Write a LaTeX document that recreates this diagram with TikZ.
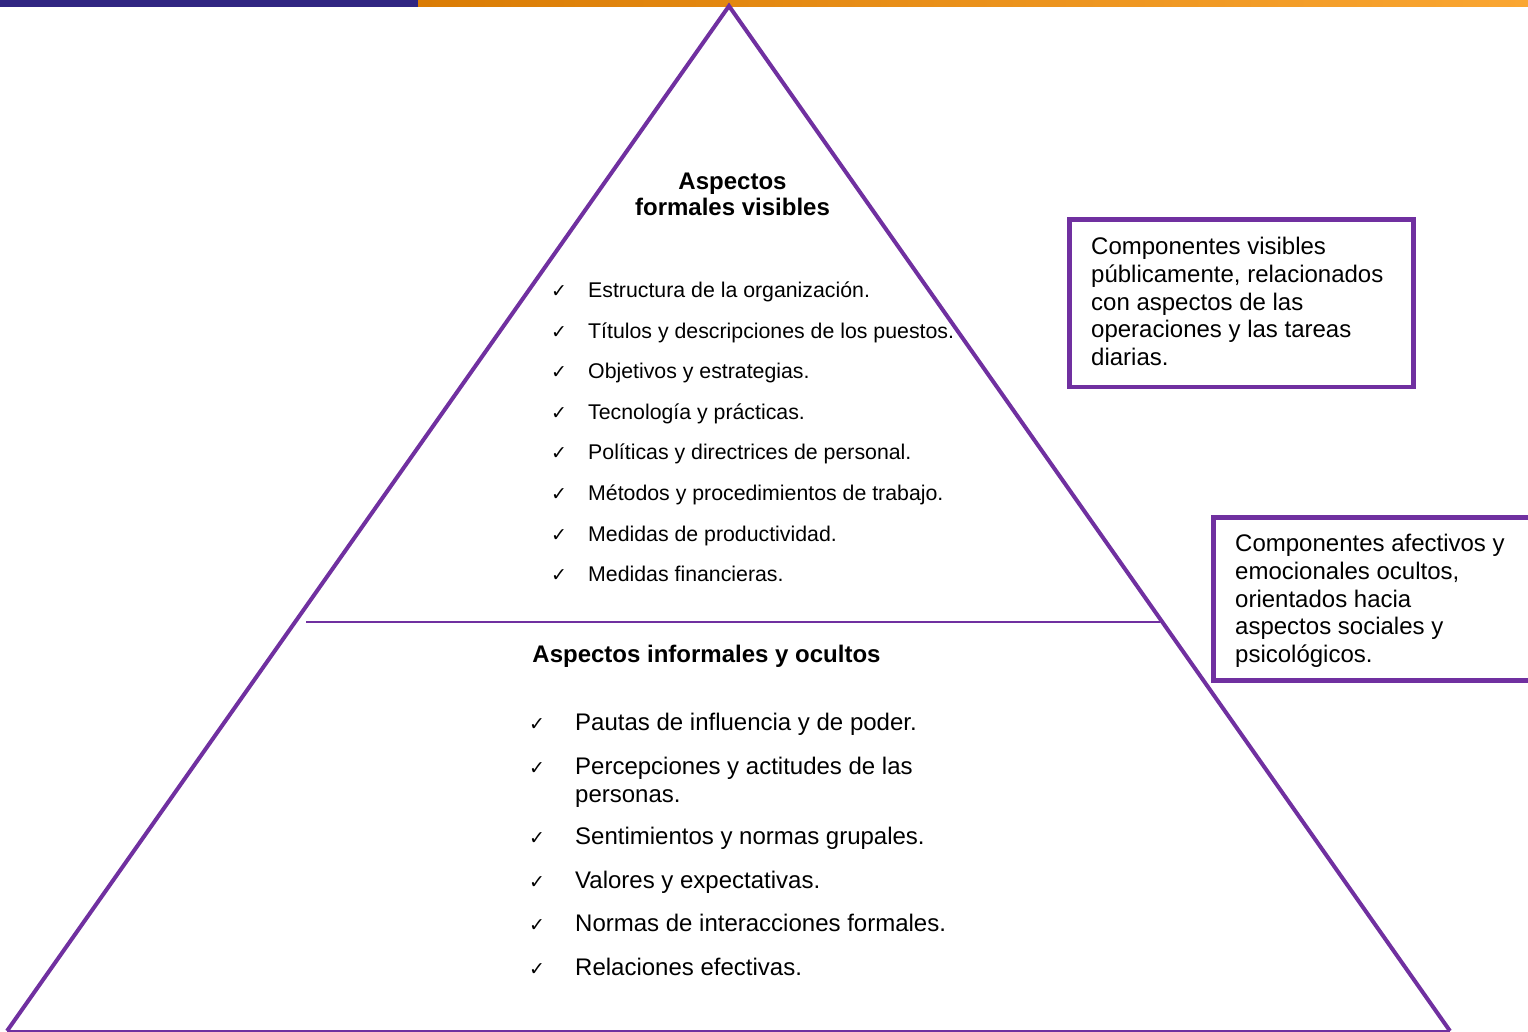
\documentclass[tikz,border=0pt]{standalone}
\usepackage{fontspec}
\setmainfont{Liberation Sans}
\newfontfamily\symfont{DejaVu Sans}
\definecolor{tripurple}{HTML}{7030A0}
\definecolor{bardark}{RGB}{49,38,130}
\definecolor{orangeA}{RGB}{218,124,4}
\definecolor{orangeB}{RGB}{250,166,50}
\begin{document}
\begin{tikzpicture}[x=1pt,y=-1pt,
  upitem/.style={anchor=base west,inner sep=0pt,font=\fontsize{21.3}{24}\selectfont},
  lowitem/.style={anchor=base west,inner sep=0pt,align=left,font=\fontsize{24}{28}\selectfont},
  chk/.style={anchor=base west,inner sep=0pt,font=\symfont\fontsize{19}{22}\selectfont},
  boxtext/.style={anchor=base west,inner sep=0pt,align=left,font=\fontsize{24}{27.7}\selectfont},
  heading/.style={anchor=base,inner sep=0pt,align=center,font=\bfseries\fontsize{24}{26}\selectfont},
  sidebox/.style={draw=tripurple,line width=4.5pt}]
\useasboundingbox (0,0) rectangle (1528,1032);
% top bar
\fill[bardark] (0,0) rectangle (418,7);
\shade[left color=orangeA,right color=orangeB] (418,0) rectangle (1528,7);
% triangle
\coordinate (apex) at (729,6);
\coordinate (bl) at (7,1031);
\coordinate (br) at (1450,1031);
\coordinate (dl) at (306,622);
\coordinate (dr) at (1160,622);
\draw[tripurple,line width=2pt] (bl) -- (br);
\draw[tripurple,line width=4pt,line join=miter] (bl) -- (apex) -- (br);
\draw[tripurple,line width=2pt] (dl) -- (dr);
% upper heading (base = last line)
\node[heading] (h1) at (732.5,216) {Aspectos\\formales visibles};
% upper list
\foreach \t [count=\i from 0] in {Estructura de la organización.,
  Títulos y descripciones de los puestos.,
  Objetivos y estrategias.,
  Tecnología y prácticas.,
  Políticas y directrices de personal.,
  Métodos y procedimientos de trabajo.,
  Medidas de productividad.,
  Medidas financieras.}{
  \node[chk] (uc\i) at (551,297.5+40.6*\i) {✓};
  \node[upitem] (ut\i) at (588,297.5+40.6*\i) {\t};
}
% lower heading
\node[heading] (h2) at (706.5,662) {Aspectos informales y ocultos};
% lower list
\node[chk] (lc1) at (529,730) {✓};
\node[lowitem] (lt1) at (575,730) {Pautas de influencia y de poder.};
\node[chk] (lc2) at (529,774) {✓};
\node[lowitem] (lt2) at (575,802) {Percepciones y actitudes de las\\personas.};
\node[chk] (lc3) at (529,844.5) {✓};
\node[lowitem] (lt3) at (575,844.5) {Sentimientos y normas grupales.};
\node[chk] (lc4) at (529,888.5) {✓};
\node[lowitem] (lt4) at (575,888.5) {Valores y expectativas.};
\node[chk] (lc5) at (529,931.5) {✓};
\node[lowitem] (lt5) at (575,931.5) {Normas de interacciones formales.};
\node[chk] (lc6) at (529,975.5) {✓};
\node[lowitem] (lt6) at (575,975.5) {Relaciones efectivas.};
% side boxes
\draw[sidebox] (1069.5,219.5) rectangle (1413.5,387);
\node[boxtext] (b1) at (1091,365.4) {Componentes visibles\\públicamente, relacionados\\con aspectos de las\\operaciones y las tareas\\diarias.};
\draw[sidebox] (1213.3,517.3) rectangle (1540,680.5);
\node[boxtext] (b2) at (1235,662.6) {Componentes afectivos y\\emocionales ocultos,\\orientados hacia\\aspectos sociales y\\psicológicos.};
\end{tikzpicture}
\end{document}
